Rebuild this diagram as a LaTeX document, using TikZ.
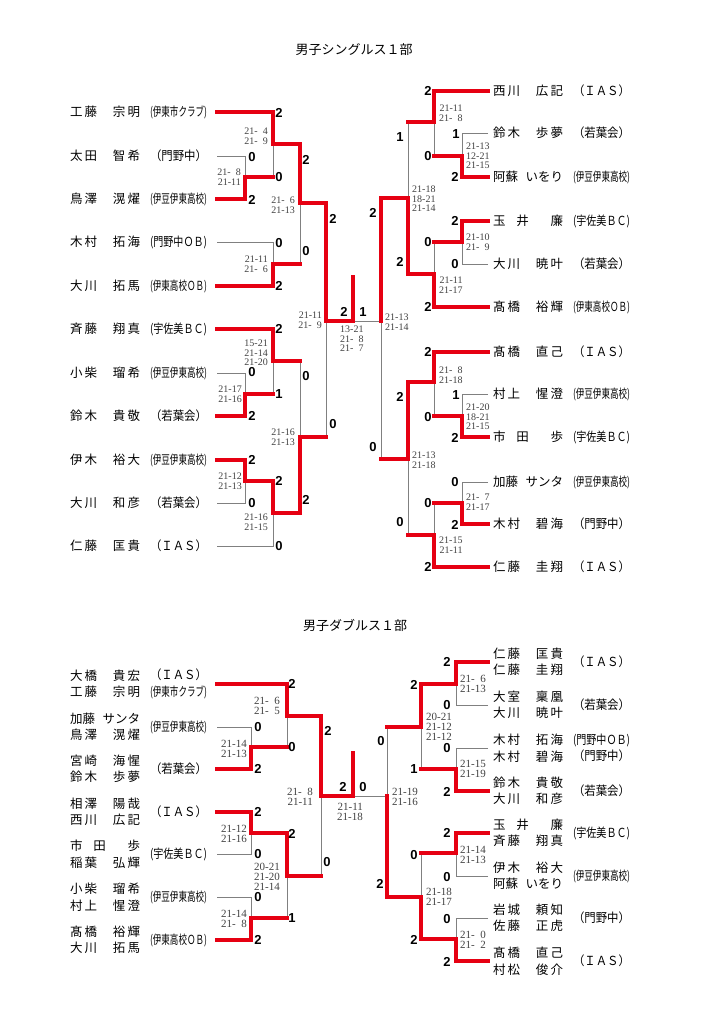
\documentclass[tikz,border=0pt]{standalone}
\usepackage{fontspec}
\setmainfont{Liberation Serif}
\newfontfamily\jpfont{Noto Sans CJK JP}
\newfontfamily\digitfont{Liberation Sans}
\definecolor{winred}{RGB}{230,0,18}
\definecolor{losegray}{RGB}{128,128,128}
\definecolor{gamegray}{RGB}{65,65,65}
\newcommand{\nm}[1]{\makebox[70pt][s]{#1}}
\newcommand{\aff}[1]{\resizebox{57pt}{\height}{#1}}
\newcommand{\sgap}{\enspace}
\tikzstyle{title} = [font=\jpfont\fontsize{13}{15}\selectfont, inner sep=0pt]
\tikzstyle{player} = [font=\jpfont\fontsize{12.5}{16.5}\selectfont, align=left, inner sep=0pt, outer sep=0pt, anchor=west]
\tikzstyle{playerR} = [player, outer xsep=5pt]
\tikzstyle{club} = [font=\jpfont\fontsize{12.5}{16.5}\selectfont, align=center, inner sep=0pt, outer sep=0pt]
\tikzstyle{clubL} = [club, anchor=east, outer xsep=10pt]
\tikzstyle{clubR} = [club, anchor=west]
\tikzstyle{points} = [font=\digitfont\bfseries\fontsize{13}{13}\selectfont, inner sep=0pt]
\tikzstyle{games} = [font=\fontsize{10}{9.5}\selectfont, text=gamegray, align=right, inner sep=0pt]
\tikzstyle{gamesD} = [games, font=\fontsize{11}{10.2}\selectfont]
\tikzstyle{lost} = [draw=losegray, line width=0.9pt]
\tikzstyle{won} = [draw=winred, line width=3.2pt, line cap=rect]

\begin{document}
\begin{tikzpicture}[x=1pt, y=-1pt]
        \useasboundingbox (0,0) rectangle (724,1024);
        \node [title] (t1) at (354,50) {男子シングルス１部};
        \node [title] (t2) at (355,625) {男子ダブルス１部};

        % singles, left half
        \node [player] (s1) at (70,112) {\nm{工\,藤\hfill 宗\,明}};
        \node [clubL] (s1c) at (217,112) {\aff{(伊東市クラブ)}};
        \node [player] (s2) at (70,156) {\nm{太\,田\hfill 智\,希}};
        \node [clubL] (s2c) at (217,156) {\aff{（門野中）}};
        \node [player] (s3) at (70,199) {\nm{鳥\,澤\hfill 滉\,燿}};
        \node [clubL] (s3c) at (217,199) {\aff{(伊豆伊東高校)}};
        \node [player] (s4) at (70,242) {\nm{木\,村\hfill 拓\,海}};
        \node [clubL] (s4c) at (217,242) {\aff{(門野中ＯＢ)}};
        \node [player] (s5) at (70,286) {\nm{大\,川\hfill 拓\,馬}};
        \node [clubL] (s5c) at (217,286) {\aff{(伊東高校ＯＢ)}};
        \node [player] (s6) at (70,329) {\nm{斉\,藤\hfill 翔\,真}};
        \node [clubL] (s6c) at (217,329) {\aff{(宇佐美ＢＣ)}};
        \node [player] (s7) at (70,373) {\nm{小\,柴\hfill 瑠\,希}};
        \node [clubL] (s7c) at (217,373) {\aff{(伊豆伊東高校)}};
        \node [player] (s8) at (70,416) {\nm{鈴\,木\hfill 貴\,敬}};
        \node [clubL] (s8c) at (217,416) {\aff{（若葉会）}};
        \node [player] (s9) at (70,460) {\nm{伊\,木\hfill 裕\,大}};
        \node [clubL] (s9c) at (217,460) {\aff{(伊豆伊東高校)}};
        \node [player] (s10) at (70,503) {\nm{大\,川\hfill 和\,彦}};
        \node [clubL] (s10c) at (217,503) {\aff{（若葉会）}};
        \node [player] (s11) at (70,546) {\nm{仁\,藤\hfill 匡\,貴}};
        \node [clubL] (s11c) at (217,546) {\aff{（ＩＡＳ）}};

        % singles, right half
        \node [playerR] (r1) at (488,91) {\nm{西\,川\hfill 広\,記}};
        \node [clubR] (r1c) at (573,91) {\aff{（ＩＡＳ）}};
        \node [playerR] (r2) at (488,133) {\nm{鈴\,木\hfill 歩\,夢}};
        \node [clubR] (r2c) at (573,133) {\aff{（若葉会）}};
        \node [playerR] (r3) at (488,177) {\nm{阿蘇\hfill いをり}};
        \node [clubR] (r3c) at (573,177) {\aff{(伊豆伊東高校)}};
        \node [playerR] (r4) at (488,221) {\nm{玉\hfill 井\hfill\hfill 廉}};
        \node [clubR] (r4c) at (573,221) {\aff{(宇佐美ＢＣ)}};
        \node [playerR] (r5) at (488,264) {\nm{大\,川\hfill 暁\,叶}};
        \node [clubR] (r5c) at (573,264) {\aff{（若葉会）}};
        \node [playerR] (r6) at (488,307) {\nm{髙\,橋\hfill 裕\,輝}};
        \node [clubR] (r6c) at (573,307) {\aff{(伊東高校ＯＢ)}};
        \node [playerR] (r7) at (488,352) {\nm{髙\,橋\hfill 直\,己}};
        \node [clubR] (r7c) at (573,352) {\aff{（ＩＡＳ）}};
        \node [playerR] (r8) at (488,394) {\nm{村\,上\hfill 惺\,澄}};
        \node [clubR] (r8c) at (573,394) {\aff{(伊豆伊東高校)}};
        \node [playerR] (r9) at (488,437) {\nm{市\hfill 田\hfill\hfill 歩}};
        \node [clubR] (r9c) at (573,437) {\aff{(宇佐美ＢＣ)}};
        \node [playerR] (r10) at (488,482) {\nm{加藤\hfill サンタ}};
        \node [clubR] (r10c) at (573,482) {\aff{(伊豆伊東高校)}};
        \node [playerR] (r11) at (488,524) {\nm{木\,村\hfill 碧\,海}};
        \node [clubR] (r11c) at (573,524) {\aff{（門野中）}};
        \node [playerR] (r12) at (488,567) {\nm{仁\,藤\hfill 圭\,翔}};
        \node [clubR] (r12c) at (573,567) {\aff{（ＩＡＳ）}};

        % doubles, left half
        \node [player] (p1) at (70,684) {\nm{大\,橋\hfill 貴\,宏}\\\nm{工\,藤\hfill 宗\,明}};
        \node [clubL] (p1c) at (217,684) {\aff{（ＩＡＳ）}\\\aff{(伊東市クラブ)}};
        \node [player] (p2) at (70,727) {\nm{加藤\hfill サンタ}\\\nm{鳥\,澤\hfill 滉\,燿}};
        \node [clubL] (p2c) at (217,727) {\aff{(伊豆伊東高校)}};
        \node [player] (p3) at (70,769) {\nm{宮\,崎\hfill 海\,惺}\\\nm{鈴\,木\hfill 歩\,夢}};
        \node [clubL] (p3c) at (217,769) {\aff{（若葉会）}};
        \node [player] (p4) at (70,812) {\nm{相\,澤\hfill 陽\,哉}\\\nm{西\,川\hfill 広\,記}};
        \node [clubL] (p4c) at (217,812) {\aff{（ＩＡＳ）}};
        \node [player] (p5) at (70,854) {\nm{市\hfill 田\hfill\hfill 歩}\\\nm{稲\,葉\hfill 弘\,輝}};
        \node [clubL] (p5c) at (217,854) {\aff{(宇佐美ＢＣ)}};
        \node [player] (p6) at (70,897) {\nm{小\,柴\hfill 瑠\,希}\\\nm{村\,上\hfill 惺\,澄}};
        \node [clubL] (p6c) at (217,897) {\aff{(伊豆伊東高校)}};
        \node [player] (p7) at (70,940) {\nm{髙\,橋\hfill 裕\,輝}\\\nm{大\,川\hfill 拓\,馬}};
        \node [clubL] (p7c) at (217,940) {\aff{(伊東高校ＯＢ)}};

        % doubles, right half
        \node [playerR] (q1) at (488,662) {\nm{仁\,藤\hfill 匡\,貴}\\\nm{仁\,藤\hfill 圭\,翔}};
        \node [clubR] (q1c) at (573,662) {\aff{（ＩＡＳ）}};
        \node [playerR] (q2) at (488,705) {\nm{大\,室\hfill 稟\,凰}\\\nm{大\,川\hfill 暁\,叶}};
        \node [clubR] (q2c) at (573,705) {\aff{（若葉会）}};
        \node [playerR] (q3) at (488,748) {\nm{木\,村\hfill 拓\,海}\\\nm{木\,村\hfill 碧\,海}};
        \node [clubR] (q3c) at (573,748) {\aff{(門野中ＯＢ)}\\\aff{（門野中）}};
        \node [playerR] (q4) at (488,791) {\nm{鈴\,木\hfill 貴\,敬}\\\nm{大\,川\hfill 和\,彦}};
        \node [clubR] (q4c) at (573,791) {\aff{（若葉会）}};
        \node [playerR] (q5) at (488,833) {\nm{玉\hfill 井\hfill\hfill 廉}\\\nm{斉\,藤\hfill 翔\,真}};
        \node [clubR] (q5c) at (573,833) {\aff{(宇佐美ＢＣ)}};
        \node [playerR] (q6) at (488,876) {\nm{伊\,木\hfill 裕\,大}\\\nm{阿蘇\hfill いをり}};
        \node [clubR] (q6c) at (573,876) {\aff{(伊豆伊東高校)}};
        \node [playerR] (q7) at (488,918) {\nm{岩\,城\hfill 頼\,知}\\\nm{佐\,藤\hfill 正\,虎}};
        \node [clubR] (q7c) at (573,918) {\aff{（門野中）}};
        \node [playerR] (q8) at (488,961) {\nm{髙\,橋\hfill 直\,己}\\\nm{村\,松\hfill 俊\,介}};
        \node [clubR] (q8c) at (573,961) {\aff{（ＩＡＳ）}};

        % match points
        \coordinate (a1) at (245,177);
        \coordinate (a2) at (273,144);
        \coordinate (a3) at (273,264);
        \coordinate (a4) at (300,203);
        \coordinate (a5) at (245,394);
        \coordinate (a6) at (273,361);
        \coordinate (a7) at (245,481);
        \coordinate (a8) at (273,513);
        \coordinate (a9) at (300,437);
        \coordinate (a10) at (326,321);
        \coordinate (b1) at (462,156);
        \coordinate (b2) at (434,122);
        \coordinate (b3) at (462,242);
        \coordinate (b4) at (434,274);
        \coordinate (b5) at (408,198);
        \coordinate (b6) at (462,416);
        \coordinate (b7) at (434,382);
        \coordinate (b8) at (462,503);
        \coordinate (b9) at (434,535);
        \coordinate (b10) at (408,459);
        \coordinate (b11) at (381,321);
        \coordinate (f1) at (353,321);
        \coordinate (f1top) at (353,277);
        \coordinate (d1) at (251,747);
        \coordinate (d2) at (287,716);
        \coordinate (d3) at (251,833);
        \coordinate (d4) at (251,918);
        \coordinate (d5) at (287,876);
        \coordinate (d6) at (321,796);
        \coordinate (e1) at (456,684);
        \coordinate (e2) at (456,769);
        \coordinate (e3) at (421,727);
        \coordinate (e4) at (456,853);
        \coordinate (e5) at (456,939);
        \coordinate (e6) at (421,897);
        \coordinate (e7) at (387,796);
        \coordinate (f2) at (353,796);
        \coordinate (f2top) at (353,753);

        % losing sides
        \draw [lost] (s2c.east) -| (a1);
        \draw [lost] (a1 -| a2) -- (a2);
        \draw [lost] (s4c.east) -| (a3);
        \draw [lost] (a3 -| a4) -- (a4);
        \draw [lost] (s7c.east) -| (a5);
        \draw [lost] (a5 -| a6) -- (a6);
        \draw [lost] (s10c.east) -| (a7);
        \draw [lost] (s11c.east) -| (a8);
        \draw [lost] (a6 -| a9) -- (a9);
        \draw [lost] (a9 -| a10) -- (a10);
        \draw [lost] (r2.west) -| (b1);
        \draw [lost] (b1 -| b2) -- (b2);
        \draw [lost] (r5.west) -| (b3);
        \draw [lost] (b3 -| b4) -- (b4);
        \draw [lost] (b2 -| b5) -- (b5);
        \draw [lost] (r8.west) -| (b6);
        \draw [lost] (b6 -| b7) -- (b7);
        \draw [lost] (r10.west) -| (b8);
        \draw [lost] (b8 -| b9) -- (b9);
        \draw [lost] (b9 -| b10) -- (b10);
        \draw [lost] (b10 -| b11) -- (b11);
        \draw [lost] (b11) -- (f1);
        \draw [lost] (p2c.east) -| (d1);
        \draw [lost] (d1 -| d2) -- (d2);
        \draw [lost] (p5c.east) -| (d3);
        \draw [lost] (p6c.east) -| (d4);
        \draw [lost] (d4 -| d5) -- (d5);
        \draw [lost] (d5 -| d6) -- (d6);
        \draw [lost] (q2.west) -| (e1);
        \draw [lost] (q3.west) -| (e2);
        \draw [lost] (e2 -| e3) -- (e3);
        \draw [lost] (q6.west) -| (e4);
        \draw [lost] (q7.west) -| (e5);
        \draw [lost] (e4 -| e6) -- (e6);
        \draw [lost] (e3 -| e7) -- (e7);
        \draw [lost] (e7) -- (f2);

        % winning sides
        \draw [won] (s3c.east) -| (a1) -- (a1 -| a2);
        \draw [won] (s1c.east) -| (a2) -| (a4);
        \draw [won] (s5c.east) -| (a3) -- (a3 -| a4);
        \draw [won] (s8c.east) -| (a5) -- (a5 -| a6);
        \draw [won] (s6c.east) -| (a6) -- (a6 -| a9);
        \draw [won] (s9c.east) -| (a7) -| (a8) -| (a9) -- (a9 -| a10);
        \draw [won] (a4) -| (a10) -- (f1) -- (f1top);
        \draw [won] (r3.west) -| (b1) -- (b1 -| b2);
        \draw [won] (r1.west) -| (b2) -- (b2 -| b5);
        \draw [won] (r4.west) -| (b3) -- (b3 -| b4);
        \draw [won] (r6.west) -| (b4) -| (b5) -| (b11);
        \draw [won] (r9.west) -| (b6) -- (b6 -| b7);
        \draw [won] (r7.west) -| (b7) -| (b10) -- (b10 -| b11);
        \draw [won] (r11.west) -| (b8) -- (b8 -| b9);
        \draw [won] (r12.west) -| (b9) -- (b9 -| b10);
        \draw [won] (p3c.east) -| (d1) -- (d1 -| d2);
        \draw [won] (p1c.east) -| (d2) -| (d6) -- (f2) -- (f2top);
        \draw [won] (p4c.east) -| (d3) -| (d5) -- (d5 -| d6);
        \draw [won] (p7c.east) -| (d4) -- (d4 -| d5);
        \draw [won] (q1.west) -| (e1) -| (e3) -- (e3 -| e7);
        \draw [won] (q4.west) -| (e2) -- (e2 -| e3);
        \draw [won] (q5.west) -| (e4) -- (e4 -| e6);
        \draw [won] (q8.west) -| (e5) -| (e6) -| (e7);

        % points, singles
        \node [points] (g1) at (279,113) {2};
        \node [points] (g2) at (252,157) {0};
        \node [points] (g3) at (279,177) {0};
        \node [points] (g4) at (252,200) {2};
        \node [points] (g5) at (306,160) {2};
        \node [points] (g6) at (333,219) {2};
        \node [points] (g7) at (279,243) {0};
        \node [points] (g8) at (306,251) {0};
        \node [points] (g9) at (279,286) {2};
        \node [points] (g10) at (279,329) {2};
        \node [points] (g11) at (252,372) {0};
        \node [points] (g12) at (306,376) {0};
        \node [points] (g13) at (279,394) {1};
        \node [points] (g14) at (252,416) {2};
        \node [points] (g15) at (333,424) {0};
        \node [points] (g16) at (252,460) {2};
        \node [points] (g17) at (279,481) {2};
        \node [points] (g18) at (306,500) {2};
        \node [points] (g19) at (252,503) {0};
        \node [points] (g20) at (279,546) {0};
        \node [points] (g21) at (344,312) {2};
        \node [points] (g22) at (363,312) {1};
        \node [points] (g23) at (428,91) {2};
        \node [points] (g24) at (400,137) {1};
        \node [points] (g25) at (456,134) {1};
        \node [points] (g26) at (428,156) {0};
        \node [points] (g27) at (455,177) {2};
        \node [points] (g28) at (373,213) {2};
        \node [points] (g29) at (455,221) {2};
        \node [points] (g30) at (428,242) {0};
        \node [points] (g31) at (400,262) {2};
        \node [points] (g32) at (455,264) {0};
        \node [points] (g33) at (428,307) {2};
        \node [points] (g34) at (428,352) {2};
        \node [points] (g35) at (400,397) {2};
        \node [points] (g36) at (456,395) {1};
        \node [points] (g37) at (428,417) {0};
        \node [points] (g38) at (455,438) {2};
        \node [points] (g39) at (373,447) {0};
        \node [points] (g40) at (455,482) {0};
        \node [points] (g41) at (428,503) {0};
        \node [points] (g42) at (400,522) {0};
        \node [points] (g43) at (455,525) {2};
        \node [points] (g44) at (428,567) {2};

        % points, doubles
        \node [points] (h1) at (292,684) {2};
        \node [points] (h2) at (258,727) {0};
        \node [points] (h3) at (328,731) {2};
        \node [points] (h4) at (292,747) {0};
        \node [points] (h5) at (258,769) {2};
        \node [points] (h6) at (343,787) {2};
        \node [points] (h7) at (363,787) {0};
        \node [points] (h8) at (258,812) {2};
        \node [points] (h9) at (292,834) {2};
        \node [points] (h10) at (258,854) {0};
        \node [points] (h11) at (327,862) {0};
        \node [points] (h12) at (258,897) {0};
        \node [points] (h13) at (292,918) {1};
        \node [points] (h14) at (258,940) {2};
        \node [points] (h15) at (447,662) {2};
        \node [points] (h16) at (414,685) {2};
        \node [points] (h17) at (447,705) {0};
        \node [points] (h18) at (381,741) {0};
        \node [points] (h19) at (447,748) {0};
        \node [points] (h20) at (414,769) {1};
        \node [points] (h21) at (447,792) {2};
        \node [points] (h22) at (447,833) {2};
        \node [points] (h23) at (414,855) {0};
        \node [points] (h24) at (380,884) {2};
        \node [points] (h25) at (447,877) {0};
        \node [points] (h26) at (447,919) {0};
        \node [points] (h27) at (414,940) {2};
        \node [points] (h28) at (447,962) {2};

        % game scores, singles
        \node [games, anchor=east] (k1) at (241,177) {21-\sgap8\\21-11};
        \node [games, anchor=east] (k2) at (268,136) {21-\sgap4\\21-\sgap9};
        \node [games, anchor=east] (k3) at (268,264) {21-11\\21-\sgap6};
        \node [games, anchor=east] (k4) at (295,205) {21-\sgap6\\21-13};
        \node [games, anchor=east] (k5) at (242,394) {21-17\\21-16};
        \node [games, anchor=east] (k6) at (268,353) {15-21\\21-14\\21-20};
        \node [games, anchor=east] (k7) at (242,481) {21-12\\21-13};
        \node [games, anchor=east] (k8) at (268,522) {21-16\\21-15};
        \node [games, anchor=east] (k9) at (295,437) {21-16\\21-13};
        \node [games, anchor=east] (k10) at (322,320) {21-11\\21-\sgap9};
        \node [games, anchor=west] (k11) at (340,339) {13-21\\21-\sgap8\\21-\sgap7};
        \node [games, anchor=west] (k12) at (439,113) {21-11\\21-\sgap8};
        \node [games, anchor=west] (k13) at (466,156) {21-13\\12-21\\21-15};
        \node [games, anchor=west] (k14) at (412,199) {21-18\\18-21\\21-14};
        \node [games, anchor=west] (k15) at (466,242) {21-10\\21-\sgap9};
        \node [games, anchor=west] (k16) at (439,285) {21-11\\21-17};
        \node [games, anchor=west] (k17) at (385,322) {21-13\\21-14};
        \node [games, anchor=west] (k18) at (439,375) {21-\sgap8\\21-18};
        \node [games, anchor=west] (k19) at (466,417) {21-20\\18-21\\21-15};
        \node [games, anchor=west] (k20) at (412,460) {21-13\\21-18};
        \node [games, anchor=west] (k21) at (466,502) {21-\sgap7\\21-17};
        \node [games, anchor=west] (k22) at (439,545) {21-15\\21-11};

        % game scores, doubles
        \node [gamesD, anchor=east] (m1) at (280,706) {21-\sgap6\\21-\sgap5};
        \node [gamesD, anchor=east] (m2) at (247,749) {21-14\\21-13};
        \node [gamesD, anchor=east] (m3) at (313,797) {21-\sgap8\\21-11};
        \node [gamesD, anchor=west] (m4) at (337,812) {21-11\\21-18};
        \node [gamesD, anchor=east] (m5) at (247,834) {21-12\\21-16};
        \node [gamesD, anchor=east] (m6) at (280,877) {20-21\\21-20\\21-14};
        \node [gamesD, anchor=east] (m7) at (247,919) {21-14\\21-\sgap8};
        \node [gamesD, anchor=west] (m8) at (392,797) {21-19\\21-16};
        \node [gamesD, anchor=west] (m9) at (460,684) {21-\sgap6\\21-13};
        \node [gamesD, anchor=west] (m10) at (426,727) {20-21\\21-12\\21-12};
        \node [gamesD, anchor=west] (m11) at (460,769) {21-15\\21-19};
        \node [gamesD, anchor=west] (m12) at (460,855) {21-14\\21-13};
        \node [gamesD, anchor=west] (m13) at (426,897) {21-18\\21-17};
        \node [gamesD, anchor=west] (m14) at (460,940) {21-\sgap0\\21-\sgap2};
    \end{tikzpicture}
\end{document}
